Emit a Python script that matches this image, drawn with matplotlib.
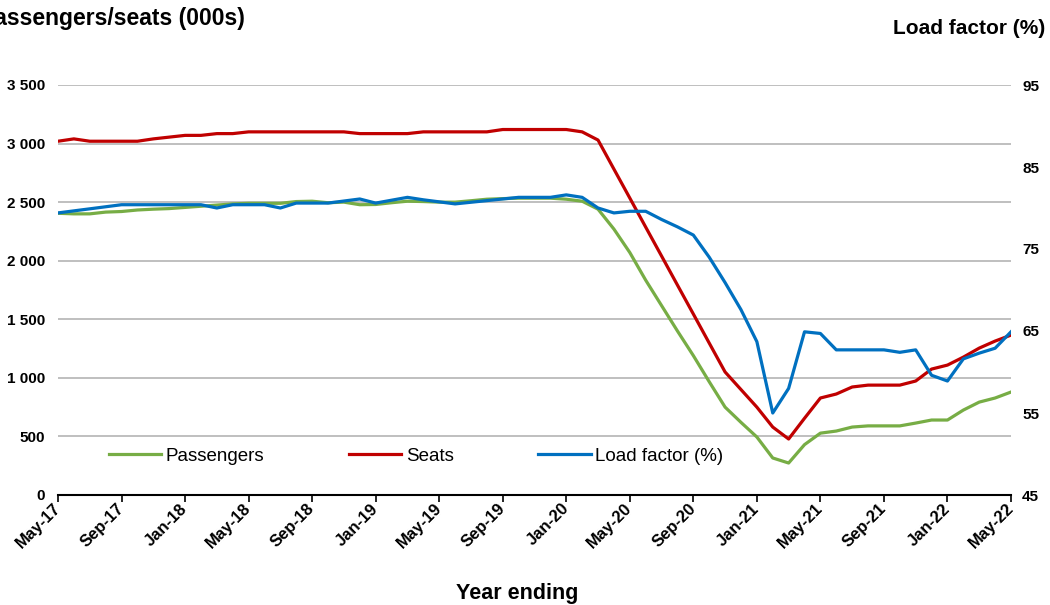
import matplotlib
matplotlib.use("Agg")
import matplotlib.pyplot as plt
from matplotlib.ticker import FuncFormatter, FixedLocator

months = ["May-17","Jun-17","Jul-17","Aug-17","Sep-17","Oct-17","Nov-17","Dec-17",
          "Jan-18","Feb-18","Mar-18","Apr-18","May-18","Jun-18","Jul-18","Aug-18",
          "Sep-18","Oct-18","Nov-18","Dec-18","Jan-19","Feb-19","Mar-19","Apr-19",
          "May-19","Jun-19","Jul-19","Aug-19","Sep-19","Oct-19","Nov-19","Dec-19",
          "Jan-20","Feb-20","Mar-20","Apr-20","May-20","Jun-20","Jul-20","Aug-20",
          "Sep-20","Oct-20","Nov-20","Dec-20","Jan-21","Feb-21","Mar-21","Apr-21",
          "May-21","Jun-21","Jul-21","Aug-21","Sep-21","Oct-21","Nov-21","Dec-21",
          "Jan-22","Feb-22","Mar-22","Apr-22","May-22"]

seats = [3020, 3040, 3020, 3020, 3020, 3020, 3040, 3055,
         3070, 3070, 3085, 3085, 3100, 3100, 3100, 3100,
         3100, 3100, 3100, 3085, 3085, 3085, 3085, 3100,
         3100, 3100, 3100, 3100, 3120, 3120, 3120, 3120,
         3120, 3100, 3030, 2782, 2535, 2287, 2040, 1792,
         1545, 1297, 1050, 900, 750, 580, 478, 655,
         828, 862, 922, 938, 938, 938, 973, 1075,
         1109, 1177, 1254, 1314, 1365]

passengers = [2405, 2400, 2400, 2415, 2420, 2433, 2440, 2445,
              2455, 2465, 2475, 2485, 2490, 2490, 2490, 2505,
              2508, 2495, 2500, 2478, 2480, 2495, 2508, 2505,
              2500, 2500, 2512, 2525, 2530, 2534, 2534, 2534,
              2525, 2508, 2440, 2270, 2070, 1834, 1617, 1400,
              1190, 967, 750, 620, 495, 316, 273, 430,
              528, 546, 580, 590, 590, 590, 614, 640,
              640, 725, 793, 828, 879]

load_factor = [79.4, 79.65, 79.9, 80.15, 80.4, 80.4, 80.4, 80.4,
               80.4, 80.4, 80.0, 80.4, 80.4, 80.4, 80.0, 80.6,
               80.6, 80.6, 80.85, 81.1, 80.6, 80.95, 81.3, 81.0,
               80.75, 80.5, 80.7, 80.9, 81.1, 81.3, 81.3, 81.3,
               81.6, 81.3, 80.0, 79.4, 79.6, 79.6, 78.6, 77.7,
               76.7, 74.0, 70.9, 67.6, 63.7, 55.0, 58.0, 64.9,
               64.7, 62.7, 62.7, 62.7, 62.7, 62.4, 62.7, 59.6,
               58.9, 61.6, 62.3, 62.9, 64.9]

left_ticks = [0, 500, 1000, 1500, 2000, 2500, 3000, 3500]
right_ticks = [45, 55, 65, 75, 85, 95]

GREEN = "#77AD45"
RED = "#C00000"
BLUE = "#0070C0"
GRID = "#BFBFBF"

plt.rcParams["font.family"] = ["Liberation Sans", "DejaVu Sans"]

fig = plt.figure(figsize=(10.5, 6.05), dpi=100)
ax = fig.add_axes([58/1050, 110/605, (1011-58)/1050, 410/605])
ax2 = ax.twinx()

x = list(range(len(months)))

l1, = ax.plot(x, passengers, color=GREEN, lw=2.3, label="Passengers", zorder=3)
l2, = ax.plot(x, seats, color=RED, lw=2.3, label="Seats", zorder=3)
l3, = ax2.plot(x, load_factor, color=BLUE, lw=2.3, label="Load factor (%)", zorder=3)

ax.set_xlim(0, len(months) - 1)
ax.set_ylim(0, 3500)
ax2.set_ylim(45, 95)

ax.yaxis.set_major_locator(FixedLocator(left_ticks))
ax.yaxis.set_major_formatter(FuncFormatter(lambda v, p: f"{int(v):,}".replace(",", " ")))
ax2.yaxis.set_major_locator(FixedLocator(right_ticks))

ax.grid(axis="y", color=GRID, lw=1.4, zorder=0)
ax.set_axisbelow(True)

tick_idx = list(range(0, len(months), 4))
ax.set_xticks(tick_idx)
ax.set_xticklabels([months[i] for i in tick_idx], rotation=45, ha="right", va="center",
                   rotation_mode="anchor", fontsize=12, fontweight="bold")
ax.tick_params(axis="x", direction="out", length=5, width=1.2, color="black", pad=3)
ax.tick_params(axis="y", length=0, labelsize=11, pad=9.4)
ax2.tick_params(axis="y", length=0, labelsize=11, pad=8)
for lab in ax.get_yticklabels() + ax2.get_yticklabels():
    lab.set_fontweight("bold")

for a in (ax, ax2):
    for s in ("top", "left", "right", "bottom"):
        a.spines[s].set_visible(False)
ax.spines["bottom"].set_visible(True)
ax.spines["bottom"].set_linewidth(1.5)
ax.spines["bottom"].set_color("black")

fig.text(245/1050, 1 - 18/605, "Passengers/seats (000s)", ha="right", va="center",
         fontsize=16.5, fontweight="bold")
fig.text(1045/1050, 1 - 28/605, "Load factor (%)", ha="right", va="center",
         fontsize=15, fontweight="bold")
fig.text(517/1050, 1 - 594/605, "Year ending", ha="center", va="center",
         fontsize=15.5, fontweight="bold")

leg = ax.legend(handles=[l1, l2, l3], loc="center left",
                bbox_to_anchor=((101 - 58)/953, (495 - 456)/410),
                ncol=3, frameon=False, fontsize=13.5, handlelength=2.8,
                handletextpad=0.25, columnspacing=4.5, borderaxespad=0)

fig.savefig("out.png", dpi=100)
